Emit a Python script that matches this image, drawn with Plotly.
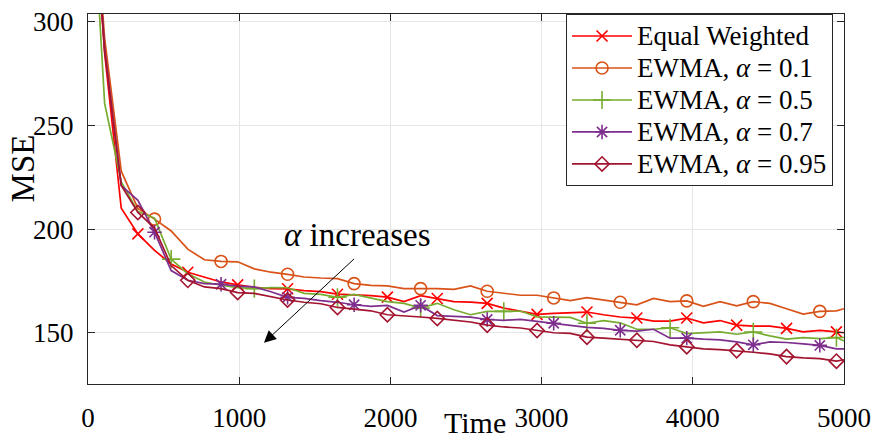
import plotly.graph_objects as go

# Sample times (every 110 steps, plus the final step)
time = list(range(0, 5000, 110)) + [5000]

mse_equal = [
    400, 285, 210.1, 197.8, 189.8, 183.3, 179.3, 177.0, 174.6, 173.2,
    172.0, 171.4, 171.3, 170.4, 169.9, 168.7, 168.5, 168.0, 167.3, 165.1,
    168.0, 166.6, 165.1, 164.9, 164.3, 162.0, 160.4, 159.0, 159.5, 159.9,
    160.1, 158.8, 157.7, 157.2, 155.7, 155.7, 157.2, 154.9, 156.0, 153.8,
    153.3, 153.3, 152.2, 150.5, 151.3, 150.5, 150.1,
]
mse_a010 = [
    400, 292, 228.0, 210.0, 204.9, 199.2, 190.4, 185.3, 184.5, 184.3,
    180.9, 179.3, 178.3, 177.0, 176.5, 176.2, 173.8, 173.0, 172.7, 171.4,
    171.4, 171.4, 171.0, 172.7, 170.1, 169.3, 168.2, 168.2, 166.9, 165.6,
    167.0, 165.9, 164.8, 163.6, 166.7, 165.1, 165.5, 162.8, 165.1, 163.1,
    165.1, 164.3, 161.7, 159.1, 160.4, 160.7, 161.7,
]
mse_a050 = [
    400, 260.7, 222.9, 208.5, 205.4, 185.6, 178.5, 174.6, 173.0, 171.9,
    171.4, 171.9, 171.8, 169.1, 168.6, 167.2, 168.6, 166.7, 165.1, 164.3,
    162.0, 164.3, 161.2, 158.8, 160.4, 160.4, 160.6, 157.8, 157.5, 157.5,
    154.7, 156.0, 154.9, 151.8, 151.8, 152.5, 149.7, 150.1, 150.5, 149.4,
    150.5, 148.6, 147.0, 147.8, 147.3, 147.8, 146.2,
]
mse_a070 = [
    400, 287, 221.1, 214.0, 198.6, 180.1, 175.4, 173.8, 173.5, 172.6,
    172.2, 169.9, 167.2, 166.7, 165.6, 164.8, 163.6, 162.8, 163.3, 160.1,
    163.3, 158.4, 158.0, 157.6, 156.5, 156.1, 156.6, 155.7, 154.7, 153.8,
    152.7, 152.2, 151.3, 150.9, 151.8, 147.5, 147.5, 147.0, 146.7, 145.7,
    144.3, 145.7, 145.4, 144.7, 144.0, 142.3, 142.3,
]
mse_a095 = [
    400, 286, 221.1, 208.1, 200.6, 182.5, 175.4, 172.2, 171.4, 169.5,
    169.1, 167.5, 165.9, 164.8, 164.1, 162.3, 161.5, 160.7, 158.8, 158.4,
    157.7, 157.0, 156.2, 155.3, 153.8, 152.9, 152.4, 151.2, 150.1, 149.8,
    148.0, 147.5, 147.0, 146.5, 145.9, 144.3, 143.4, 142.3, 142.0, 141.5,
    140.7, 139.9, 138.6, 138.0, 137.6, 136.4, 137.1,
]

series_names = [
    "Equal Weighted",
    "EWMA, <i>α</i> = 0.1",
    "EWMA, <i>α</i> = 0.5",
    "EWMA, <i>α</i> = 0.7",
    "EWMA, <i>α</i> = 0.95",
]
series_values = [mse_equal, mse_a010, mse_a050, mse_a070, mse_a095]

colors = ["#FF0000", "#D95319", "#77AC30", "#7E2F8E", "#A2142F"]
symbols = ["x-thin-open", "circle-open", "cross-thin-open", "asterisk-open", "diamond-open"]
marker_sizes = [11, 12, 13, 12, 11]
marker_every = [3, 4, 5, 4, 3]

FONT = "Liberation Serif"
AXIS_COLOR = "#262626"
LEGEND_TEXT_PX = 27

fig = go.Figure()
for name, vals, col, sym, ms, k in zip(series_names, series_values, colors,
                                       symbols, marker_sizes, marker_every):
    n = len(vals)
    # markers are shown only on every k-th sample; the rest stay hidden
    shown = [i for i in range(1, n - 1) if i % k == 0]
    fig.add_trace(go.Scatter(
        x=time, y=vals,
        name=f'<span style="font-size:{LEGEND_TEXT_PX}px">{name}</span>',
        mode="lines+markers",
        line=dict(color=col, width=1.7),
        marker=dict(symbol=sym, size=ms, color=col,
                    line=dict(color=col, width=1.6)),
        selectedpoints=shown,
        selected=dict(marker=dict(opacity=1)),
        unselected=dict(marker=dict(opacity=0)),
    ))

# Arrow showing the trend with increasing alpha
fig.add_annotation(x=1164, y=145.3, ax=1770, ay=186.4, xref="x", yref="y",
                   axref="x", ayref="y", text="", showarrow=True,
                   arrowhead=2, arrowsize=2.4, arrowwidth=1, arrowcolor="black")
fig.add_annotation(x=1783, y=197.3, xref="x", yref="y", text="<i>α</i> increases",
                   xanchor="center", yanchor="middle", showarrow=False,
                   font=dict(family=FONT, size=33, color="black"))

# Axis titles
fig.add_annotation(x=-0.0855, y=0.5836, xref="paper", yref="paper", text="MSE",
                   textangle=-90, xanchor="center", yanchor="middle", showarrow=False,
                   font=dict(family=FONT, size=33, color="black"))
fig.add_annotation(x=0.5118, y=-0.1034, xref="paper", yref="paper", text="Time",
                   xanchor="center", yanchor="middle", showarrow=False,
                   font=dict(family=FONT, size=30, color="black"))

axis_common = dict(
    showline=True, linecolor=AXIS_COLOR, linewidth=1, mirror="ticks",
    ticks="inside", ticklen=7, tickcolor=AXIS_COLOR, tickwidth=1,
    showgrid=True, gridcolor="#E6E6E6", gridwidth=1, zeroline=False,
    tickfont=dict(family=FONT, size=27, color="black"),
)

fig.update_xaxes(range=[0, 5000], tickvals=[0, 1000, 2000, 3000, 4000, 5000],
                 ticklabelstandoff=10, **axis_common)
fig.update_yaxes(range=[125.4, 303.8], tickvals=[150, 200, 250, 300],
                 ticklabelstandoff=8, **axis_common)

fig.update_layout(
    width=878, height=445,
    margin=dict(l=88, r=30, t=7, b=61),
    paper_bgcolor="white", plot_bgcolor="white",
    font=dict(family=FONT, color="black"),
    showlegend=True,
    legend=dict(
        x=0.9855, y=1.0, xanchor="right", yanchor="top",
        bgcolor="white", bordercolor=AXIS_COLOR, borderwidth=1,
        font=dict(family=FONT, size=22.3, color="black"),
        itemwidth=60, tracegroupgap=0,
    ),
)

fig.write_html("out.html")
